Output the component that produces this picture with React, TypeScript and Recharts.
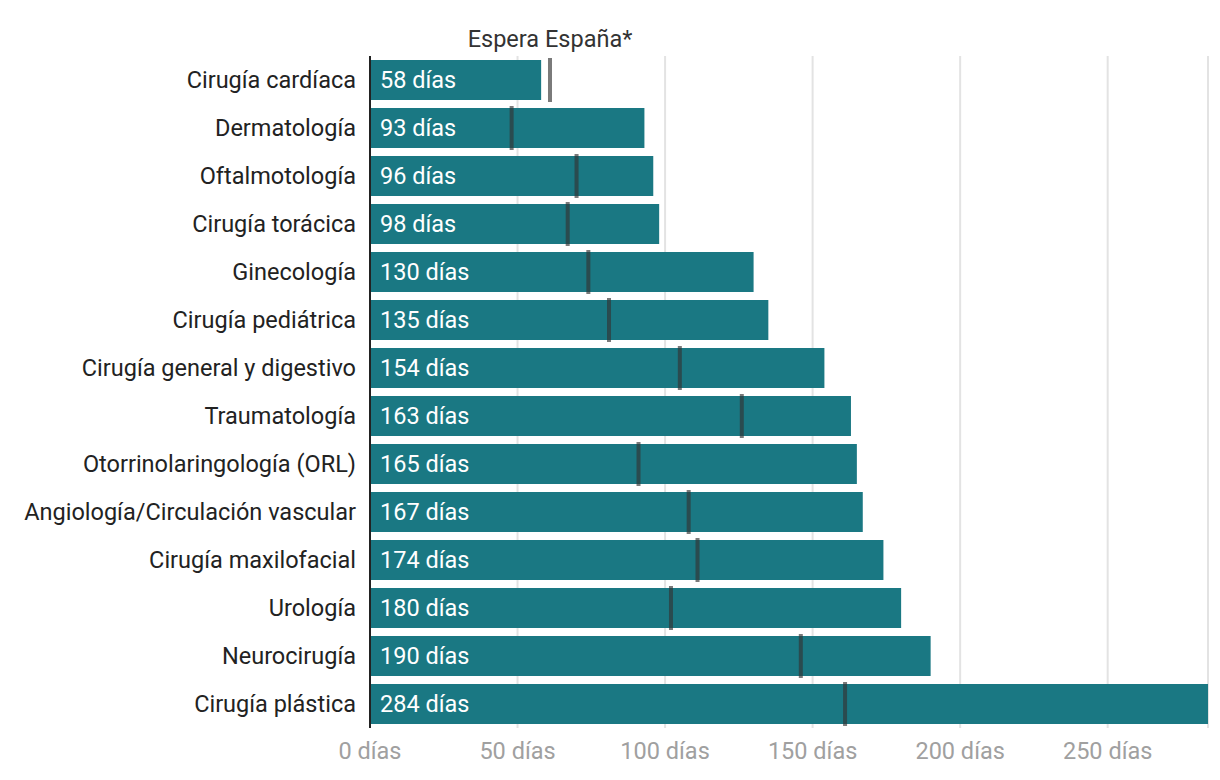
import React from 'react';
import {
  BarChart, Bar, XAxis, YAxis, CartesianGrid, LabelList
} from 'recharts';

const especialidades = [
  'Cirugía cardíaca',
  'Dermatología',
  'Oftalmotología',
  'Cirugía torácica',
  'Ginecología',
  'Cirugía pediátrica',
  'Cirugía general y digestivo',
  'Traumatología',
  'Otorrinolaringología (ORL)',
  'Angiología/Circulación vascular',
  'Cirugía maxilofacial',
  'Urología',
  'Neurocirugía',
  'Cirugía plástica',
];

const dias = [58, 93, 96, 98, 130, 135, 154, 163, 165, 167, 174, 180, 190, 284];
const esperaEspana = [61, 48, 70, 67, 74, 81, 105, 126, 91, 108, 111, 102, 146, 161];
const xTicks = [0, 50, 100, 150, 200, 250];

const data = especialidades.map((name, i) => ({
  name,
  dias: dias[i],
  espera: esperaEspana[i],
}));

const TEAL = '#1a7883';
const FONT = 'Roboto, "Noto Sans", sans-serif';
const FS = 23.5;

// thin marker drawn at the end of the (invisible) espera bar
const Marker = (props: any) => {
  const { x, y, width, height, index } = props;
  const cx = x + width;
  return (
    <g>
      <rect x={cx - 2} y={y - 2} width={4} height={height + 4} fill="#333" fillOpacity={0.65} />
      {index === 0 && (
        <text x={cx} y={y - 13} textAnchor="middle" fill="#333" fontSize={FS} fontFamily={FONT}>
          Espera España*
        </text>
      )}
    </g>
  );
};

const App = () => {
  return (
    <div style={{ width: 1220, height: 780, background: '#fff', fontFamily: FONT }}>
      <style>{'body{margin:0}'}</style>
      <BarChart
        width={1220}
        height={780}
        data={data}
        layout="vertical"
        margin={{ top: 56, right: 12, bottom: 0, left: 0 }}
        barCategoryGap={4}
      >
        <CartesianGrid horizontal={false} stroke="#e3e3e3" strokeWidth={2} />
        <XAxis
          type="number"
          domain={[0, 284]}
          ticks={xTicks}
          allowDataOverflow
          axisLine={false}
          tickLine={false}
          tickMargin={8}
          height={52}
          tick={{ fill: '#a0a0a0', fontSize: FS, fontFamily: FONT }}
          tickFormatter={(v) => `${v} días`}
        />
        <YAxis
          yAxisId="main"
          type="category"
          dataKey="name"
          width={370}
          tickLine={false}
          tickMargin={8}
          axisLine={{ stroke: '#222', strokeWidth: 2 }}
          tick={{ fill: '#222', fontSize: FS, fontFamily: FONT }}
          interval={0}
        />
        <YAxis yAxisId="marker" type="category" dataKey="name" hide />
        <Bar yAxisId="main" dataKey="dias" fill={TEAL} barSize={40} isAnimationActive={false}>
          <LabelList
            dataKey="dias"
            position="insideLeft"
            offset={10}
            fill="#fff"
            fontSize={FS}
            fontFamily={FONT}
            formatter={(v: any) => `${v} días`}
          />
        </Bar>
        <Bar
          yAxisId="marker"
          dataKey="espera"
          barSize={40}
          shape={<Marker />}
          isAnimationActive={false}
        />
      </BarChart>
    </div>
  );
};

export default App;
